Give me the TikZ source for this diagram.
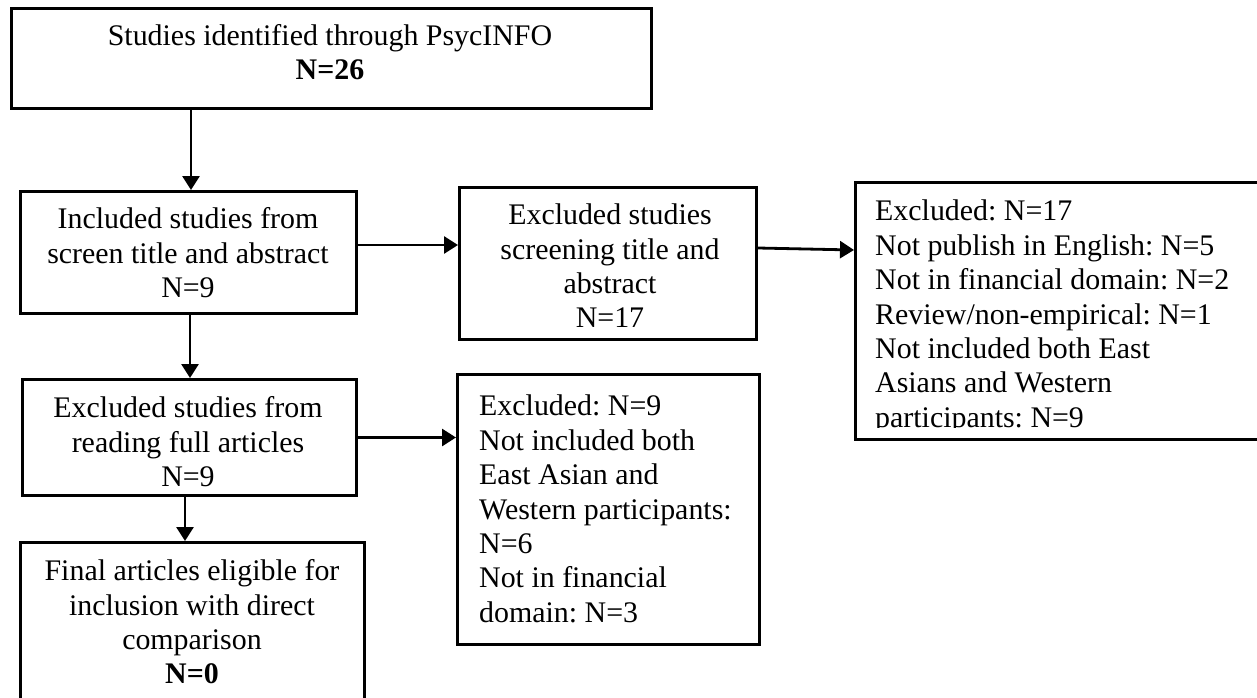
\documentclass[tikz,border=0pt]{standalone}
\usepackage{fontspec}
\setmainfont{Liberation Serif}
\usetikzlibrary{arrows.meta}
\frenchspacing
\begin{document}
\begin{tikzpicture}[x=1pt,y=-1pt,
  box/.style={draw=black, line width=3pt, inner sep=0pt, anchor=north west},
  txt/.style={inner sep=0pt, align=center, font=\fontsize{29.9pt}{34.4pt}\selectfont},
  ltxt/.style={inner sep=0pt, align=left, anchor=north west, font=\fontsize{29.9pt}{34.4pt}\selectfont},
  arr/.style={line width=2.8pt, -{Triangle[length=14pt,width=17pt]}}]
\useasboundingbox (0,0) rectangle (1257,698);

% boxes
\node[box, minimum width=640pt, minimum height=100pt] (b1) at (10,7) {};
\node[box, minimum width=336pt, minimum height=122pt] (b2) at (19,190) {};
\node[box, minimum width=297pt, minimum height=152pt] (b3) at (458,186) {};
\node[box, minimum width=408pt, minimum height=257pt] (b4) at (854,181) {};
\node[box, minimum width=334pt, minimum height=116pt] (b5) at (21,378) {};
\node[box, minimum width=302pt, minimum height=270pt] (b6) at (456,373) {};
\node[box, minimum width=344pt, minimum height=179pt] (b7) at (19,541) {};

% box texts
\node[txt] (t1) at (330,52) {Studies identified through PsycINFO\\\textbf{N=26}};
\node[txt] (t2) at (188,253) {Included studies from\\screen title and abstract\\N=9};
\node[txt] (t3) at (610,266) {Excluded studies\\screening title and\\abstract\\N=17};
\begin{scope}
  \clip (854,181) rectangle (1257,427);
  \node[ltxt] (t4) at (875,200) {Excluded: N=17\\Not publish in English: N=5\\Not in financial domain: N=2\\Review/non-empirical: N=1\\Not included both East\\Asians and Western\\participants: N=9};
\end{scope}
\node[txt] (t5) at (188,442) {Excluded studies from\\reading full articles\\N=9};
\node[ltxt] (t6) at (479,395) {Excluded: N=9\\Not included both\\East Asian and\\Western participants:\\N=6\\Not in financial\\domain: N=3};
\node[txt] (t7) at (192,622) {Final articles eligible for\\inclusion with direct\\comparison\\\textbf{N=0}};

% connectors
\coordinate (a1) at (191,0);
\coordinate (a2) at (190,0);
\coordinate (a3) at (185,0);
\coordinate (h1) at (0,245);
\coordinate (h2) at (0,248);
\coordinate (h3) at (0,250);
\draw[arr] (a1 |- b1.south) -- (a1 |- b2.north);
\draw[arr] (a2 |- b2.south) -- (a2 |- b5.north);
\draw[arr] (a3 |- b5.south) -- (a3 |- b7.north);
\draw[arr] (b2.east |- h1) -- (b3.west |- h1);
\draw[arr] (b3.east |- h2) -- (b4.west |- h3);
\draw[arr] (b5.east) -- (b5.east -| b6.west);
\end{tikzpicture}
\end{document}
